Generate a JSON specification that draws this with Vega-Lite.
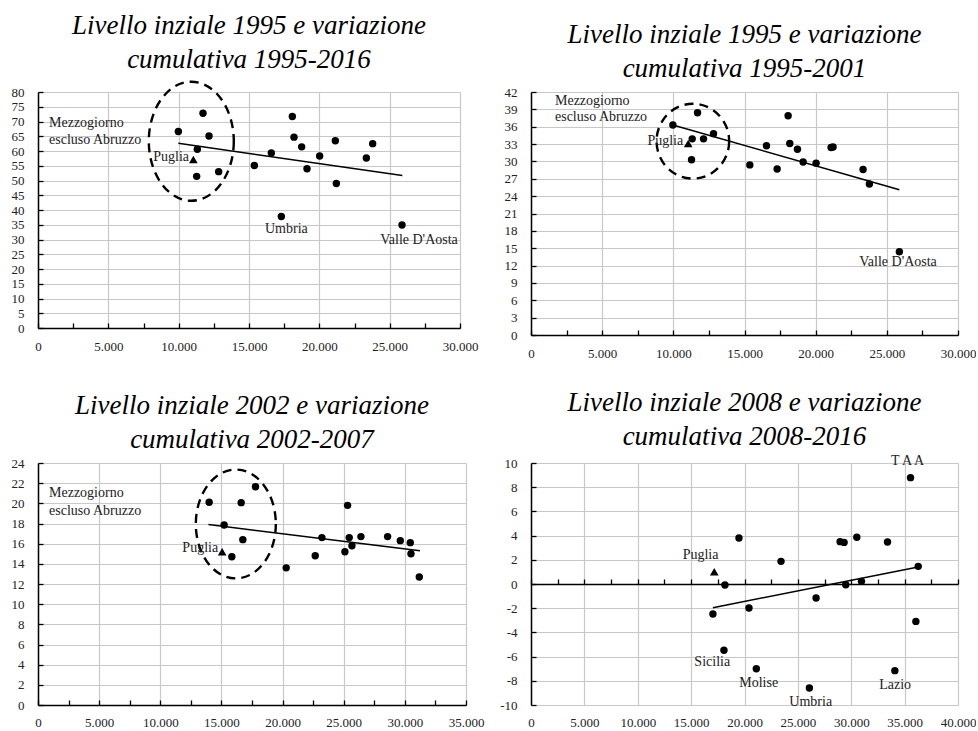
{
  "$schema": "https://vega.github.io/schema/vega-lite/v6.json",
  "background": "white",
  "padding": {"left": 11, "top": 11, "right": 0, "bottom": 0},
  "bounds": "flush",
  "columns": 2,
  "spacing": {"row": 128, "column": 65},
  "config": {
    "view": {"stroke": null},
    "font": "Liberation Serif",
    "axis": {
      "labelFont": "Liberation Serif",
      "labelFontSize": 13,
      "labelColor": "#222222",
      "grid": true,
      "gridColor": "#c8c8c8",
      "gridWidth": 1.2,
      "domainColor": "#000000",
      "domainWidth": 1.5,
      "tickColor": "#000000",
      "tickWidth": 1.3,
      "tickSize": -5,
      "labelFlush": false,
      "labelOverlap": false
    },
    "title": {
      "font": "Liberation Serif",
      "fontStyle": "italic",
      "fontWeight": "normal",
      "fontSize": 27,
      "lineHeight": 34,
      "color": "#000000",
      "anchor": "middle",
      "offset": 3
    }
  },
  "datasets": {
    "p1": [
      {"x": 9977, "y": 66.6, "gruppo": "altre"},
      {"x": 11730, "y": 72.8, "gruppo": "altre"},
      {"x": 12157, "y": 65.1, "gruppo": "altre"},
      {"x": 11327, "y": 60.6, "gruppo": "altre"},
      {"x": 11043, "y": 57.1, "gruppo": "Puglia"},
      {"x": 11280, "y": 51.4, "gruppo": "altre"},
      {"x": 12844, "y": 53.0, "gruppo": "altre"},
      {"x": 15380, "y": 55.1, "gruppo": "altre"},
      {"x": 16588, "y": 59.3, "gruppo": "altre"},
      {"x": 18081, "y": 71.7, "gruppo": "altre"},
      {"x": 18199, "y": 64.7, "gruppo": "altre"},
      {"x": 18744, "y": 61.4, "gruppo": "altre"},
      {"x": 19124, "y": 54.0, "gruppo": "altre"},
      {"x": 20024, "y": 58.3, "gruppo": "altre"},
      {"x": 21138, "y": 63.5, "gruppo": "altre"},
      {"x": 21209, "y": 49.0, "gruppo": "altre"},
      {"x": 23342, "y": 57.6, "gruppo": "altre"},
      {"x": 23792, "y": 62.5, "gruppo": "altre"},
      {"x": 17299, "y": 37.8, "gruppo": "altre"},
      {"x": 25877, "y": 34.9, "gruppo": "altre"}
    ],
    "t1": [{"x": 9977, "y": 62.6}, {"x": 25900, "y": 51.7}],
    "e1": [{"x": 10898, "y": 63.3}],
    "l1": [
      {"testo": "Mezzogiorno", "x": 782, "y": 69.6, "ancora": "left"},
      {"testo": "escluso Abruzzo", "x": 782, "y": 63.8, "ancora": "left"},
      {"testo": "Puglia", "x": 10735, "y": 57.9, "ancora": "right"},
      {"testo": "Umbria", "x": 17655, "y": 33.7, "ancora": "center"},
      {"testo": "Valle D'Aosta", "x": 27086, "y": 29.9, "ancora": "center"}
    ],
    "p2": [
      {"x": 9968, "y": 36.3, "gruppo": "altre"},
      {"x": 11700, "y": 38.4, "gruppo": "altre"},
      {"x": 11326, "y": 33.9, "gruppo": "altre"},
      {"x": 12121, "y": 33.9, "gruppo": "altre"},
      {"x": 12823, "y": 34.8, "gruppo": "altre"},
      {"x": 11045, "y": 33.1, "gruppo": "Puglia"},
      {"x": 11279, "y": 30.3, "gruppo": "altre"},
      {"x": 15374, "y": 29.4, "gruppo": "altre"},
      {"x": 16544, "y": 32.7, "gruppo": "altre"},
      {"x": 17293, "y": 28.7, "gruppo": "altre"},
      {"x": 18065, "y": 37.9, "gruppo": "altre"},
      {"x": 18182, "y": 33.1, "gruppo": "altre"},
      {"x": 18720, "y": 32.1, "gruppo": "altre"},
      {"x": 19118, "y": 29.9, "gruppo": "altre"},
      {"x": 20030, "y": 29.7, "gruppo": "altre"},
      {"x": 21083, "y": 32.4, "gruppo": "altre"},
      {"x": 21224, "y": 32.5, "gruppo": "altre"},
      {"x": 23330, "y": 28.6, "gruppo": "altre"},
      {"x": 23774, "y": 26.1, "gruppo": "altre"},
      {"x": 25880, "y": 14.4, "gruppo": "altre"}
    ],
    "t2": [{"x": 9968, "y": 36.3}, {"x": 25880, "y": 25.1}],
    "e2": [{"x": 11372, "y": 33.5}],
    "l2": [
      {"testo": "Mezzogiorno", "x": 1685, "y": 40.5, "ancora": "left"},
      {"testo": "escluso Abruzzo", "x": 1685, "y": 37.6, "ancora": "left"},
      {"testo": "Puglia", "x": 10694, "y": 33.5, "ancora": "right"},
      {"testo": "Valle D'Aosta", "x": 25787, "y": 12.7, "ancora": "center"}
    ],
    "p3": [
      {"x": 13995, "y": 20.1, "gruppo": "altre"},
      {"x": 15222, "y": 17.85, "gruppo": "altre"},
      {"x": 15059, "y": 15.2, "gruppo": "Puglia"},
      {"x": 15850, "y": 14.7, "gruppo": "altre"},
      {"x": 16614, "y": 20.07, "gruppo": "altre"},
      {"x": 16750, "y": 16.4, "gruppo": "altre"},
      {"x": 17787, "y": 21.65, "gruppo": "altre"},
      {"x": 20296, "y": 13.6, "gruppo": "altre"},
      {"x": 22670, "y": 14.8, "gruppo": "altre"},
      {"x": 23215, "y": 16.6, "gruppo": "altre"},
      {"x": 25098, "y": 15.2, "gruppo": "altre"},
      {"x": 25316, "y": 19.8, "gruppo": "altre"},
      {"x": 25452, "y": 16.6, "gruppo": "altre"},
      {"x": 25671, "y": 15.8, "gruppo": "altre"},
      {"x": 26407, "y": 16.7, "gruppo": "altre"},
      {"x": 28589, "y": 16.7, "gruppo": "altre"},
      {"x": 29626, "y": 16.3, "gruppo": "altre"},
      {"x": 30444, "y": 16.1, "gruppo": "altre"},
      {"x": 30499, "y": 15.0, "gruppo": "altre"},
      {"x": 31181, "y": 12.7, "gruppo": "altre"}
    ],
    "t3": [{"x": 13940, "y": 17.9}, {"x": 31236, "y": 15.3}],
    "e3": [{"x": 16177, "y": 17.95}],
    "l3": [
      {"testo": "Mezzogiorno", "x": 900, "y": 21.0, "ancora": "left"},
      {"testo": "escluso Abruzzo", "x": 900, "y": 19.2, "ancora": "left"},
      {"testo": "Puglia", "x": 14731, "y": 15.6, "ancora": "right"}
    ],
    "p4": [
      {"x": 17167, "y": 1.02, "gruppo": "Puglia"},
      {"x": 17042, "y": -2.48, "gruppo": "altre"},
      {"x": 18168, "y": -0.08, "gruppo": "altre"},
      {"x": 18074, "y": -5.48, "gruppo": "altre"},
      {"x": 19481, "y": 3.8, "gruppo": "altre"},
      {"x": 20419, "y": -1.98, "gruppo": "altre"},
      {"x": 21107, "y": -7.0, "gruppo": "altre"},
      {"x": 23421, "y": 1.87, "gruppo": "altre"},
      {"x": 26079, "y": -8.6, "gruppo": "altre"},
      {"x": 26705, "y": -1.16, "gruppo": "altre"},
      {"x": 28956, "y": 3.5, "gruppo": "altre"},
      {"x": 29331, "y": 3.44, "gruppo": "altre"},
      {"x": 29488, "y": -0.06, "gruppo": "altre"},
      {"x": 30520, "y": 3.86, "gruppo": "altre"},
      {"x": 30957, "y": 0.22, "gruppo": "altre"},
      {"x": 33396, "y": 3.47, "gruppo": "altre"},
      {"x": 34084, "y": -7.16, "gruppo": "altre"},
      {"x": 35554, "y": 8.79, "gruppo": "altre"},
      {"x": 36054, "y": -3.09, "gruppo": "altre"},
      {"x": 36273, "y": 1.46, "gruppo": "altre"}
    ],
    "t4": [{"x": 17042, "y": -1.96}, {"x": 36273, "y": 1.40}],
    "l4": [
      {"testo": "T A A", "x": 35273, "y": 10.19, "ancora": "center"},
      {"testo": "Puglia", "x": 15885, "y": 2.42, "ancora": "center"},
      {"testo": "Sicilia", "x": 16980, "y": -6.47, "ancora": "center"},
      {"testo": "Molise", "x": 21326, "y": -8.21, "ancora": "center"},
      {"testo": "Umbria", "x": 26204, "y": -9.73, "ancora": "center"},
      {"testo": "Lazio", "x": 34116, "y": -8.32, "ancora": "center"}
    ]
  },
  "concat": [
    {
      "width": 422,
      "height": 236,
      "title": {"text": ["Livello inziale 1995 e variazione", "cumulativa 1995-2016"]},
      "encoding": {
        "x": {"field": "x", "type": "quantitative", "title": null,
          "scale": {"domain": [0, 30000], "nice": false, "zero": false},
          "axis": {"values": [0, 2500, 5000, 7500, 10000, 12500, 15000, 17500, 20000, 22500, 25000, 27500, 30000],
            "labelExpr": "datum.value % 5000 === 0 ? replace(format(datum.value, ','), ',', '.') : ''",
            "gridOpacity": {"condition": {"test": "datum.value % 5000 === 0", "value": 1}, "value": 0},
            "labelPadding": 17}},
        "y": {"field": "y", "type": "quantitative", "title": null,
          "scale": {"domain": [0, 80], "nice": false, "zero": false},
          "axis": {"values": [0, 5, 10, 15, 20, 25, 30, 35, 40, 45, 50, 55, 60, 65, 70, 75, 80], "labelPadding": 19}}
      },
      "layer": [
        {"data": {"name": "p1"}, "transform": [{"filter": "datum.gruppo === 'altre'"}],
          "mark": {"type": "point", "shape": "circle", "filled": true, "size": 55, "color": "#000000", "opacity": 1}},
        {"data": {"name": "p1"}, "transform": [{"filter": "datum.gruppo === 'Puglia'"}],
          "mark": {"type": "point", "shape": "triangle-up", "filled": true, "size": 75, "color": "#000000", "opacity": 1}},
        {"data": {"name": "t1"}, "mark": {"type": "line", "color": "#000000", "strokeWidth": 1.5}},
        {"data": {"name": "e1"},
          "mark": {"type": "point", "shape": "M 1 0 C 1 0.773 0.552 1.4 0 1.4 C -0.552 1.4 -1 0.773 -1 0 C -1 -0.773 -0.552 -1.4 0 -1.4 C 0.552 -1.4 1 -0.773 1 0 Z", "size": 7225, "filled": false, "stroke": "#000000", "strokeWidth": 2.4, "strokeDash": [9, 6], "opacity": 1}},
        {"data": {"name": "l1"}, "transform": [{"filter": "datum.ancora === 'left'"}],
          "mark": {"type": "text", "align": "left", "baseline": "middle", "font": "Liberation Serif", "fontSize": 14, "color": "#222222"},
          "encoding": {"text": {"field": "testo"}}},
        {"data": {"name": "l1"}, "transform": [{"filter": "datum.ancora === 'right'"}],
          "mark": {"type": "text", "align": "right", "baseline": "middle", "font": "Liberation Serif", "fontSize": 14, "color": "#222222"},
          "encoding": {"text": {"field": "testo"}}},
        {"data": {"name": "l1"}, "transform": [{"filter": "datum.ancora === 'center'"}],
          "mark": {"type": "text", "align": "center", "baseline": "middle", "font": "Liberation Serif", "fontSize": 14, "color": "#222222"},
          "encoding": {"text": {"field": "testo"}}}
      ]
    },
    {
      "width": 427,
      "height": 243,
      "title": {"text": ["Livello inziale 1995 e variazione", "cumulativa 1995-2001"]},
      "encoding": {
        "x": {"field": "x", "type": "quantitative", "title": null,
          "scale": {"domain": [0, 30000], "nice": false, "zero": false},
          "axis": {"values": [0, 2500, 5000, 7500, 10000, 12500, 15000, 17500, 20000, 22500, 25000, 27500, 30000],
            "labelExpr": "datum.value % 5000 === 0 ? replace(format(datum.value, ','), ',', '.') : ''",
            "gridOpacity": {"condition": {"test": "datum.value % 5000 === 0", "value": 1}, "value": 0},
            "labelPadding": 17}},
        "y": {"field": "y", "type": "quantitative", "title": null,
          "scale": {"domain": [0, 42], "nice": false, "zero": false},
          "axis": {"values": [0, 3, 6, 9, 12, 15, 18, 21, 24, 27, 30, 33, 36, 39, 42], "labelPadding": 19}}
      },
      "layer": [
        {"data": {"name": "p2"}, "transform": [{"filter": "datum.gruppo === 'altre'"}],
          "mark": {"type": "point", "shape": "circle", "filled": true, "size": 55, "color": "#000000", "opacity": 1}},
        {"data": {"name": "p2"}, "transform": [{"filter": "datum.gruppo === 'Puglia'"}],
          "mark": {"type": "point", "shape": "triangle-up", "filled": true, "size": 75, "color": "#000000", "opacity": 1}},
        {"data": {"name": "t2"}, "mark": {"type": "line", "color": "#000000", "strokeWidth": 1.5}},
        {"data": {"name": "e2"},
          "mark": {"type": "point", "shape": "M 1 0 C 1 0.569 0.552 1.03 0 1.03 C -0.552 1.03 -1 0.569 -1 0 C -1 -0.569 -0.552 -1.03 0 -1.03 C 0.552 -1.03 1 -0.569 1 0 Z", "size": 5271, "filled": false, "stroke": "#000000", "strokeWidth": 2.4, "strokeDash": [9, 6], "opacity": 1}},
        {"data": {"name": "l2"}, "transform": [{"filter": "datum.ancora === 'left'"}],
          "mark": {"type": "text", "align": "left", "baseline": "middle", "font": "Liberation Serif", "fontSize": 14, "color": "#222222"},
          "encoding": {"text": {"field": "testo"}}},
        {"data": {"name": "l2"}, "transform": [{"filter": "datum.ancora === 'right'"}],
          "mark": {"type": "text", "align": "right", "baseline": "middle", "font": "Liberation Serif", "fontSize": 14, "color": "#222222"},
          "encoding": {"text": {"field": "testo"}}},
        {"data": {"name": "l2"}, "transform": [{"filter": "datum.ancora === 'center'"}],
          "mark": {"type": "text", "align": "center", "baseline": "middle", "font": "Liberation Serif", "fontSize": 14, "color": "#222222"},
          "encoding": {"text": {"field": "testo"}}}
      ]
    },
    {
      "width": 428,
      "height": 242,
      "title": {"text": ["Livello inziale 2002 e variazione", "cumulativa 2002-2007"]},
      "encoding": {
        "x": {"field": "x", "type": "quantitative", "title": null,
          "scale": {"domain": [0, 35000], "nice": false, "zero": false},
          "axis": {"values": [0, 2500, 5000, 7500, 10000, 12500, 15000, 17500, 20000, 22500, 25000, 27500, 30000, 32500, 35000],
            "labelExpr": "datum.value % 5000 === 0 ? replace(format(datum.value, ','), ',', '.') : ''",
            "gridOpacity": {"condition": {"test": "datum.value % 5000 === 0", "value": 1}, "value": 0},
            "labelPadding": 16}},
        "y": {"field": "y", "type": "quantitative", "title": null,
          "scale": {"domain": [0, 24], "nice": false, "zero": false},
          "axis": {"values": [0, 2, 4, 6, 8, 10, 12, 14, 16, 18, 20, 22, 24], "labelPadding": 19}}
      },
      "layer": [
        {"data": {"name": "p3"}, "transform": [{"filter": "datum.gruppo === 'altre'"}],
          "mark": {"type": "point", "shape": "circle", "filled": true, "size": 55, "color": "#000000", "opacity": 1}},
        {"data": {"name": "p3"}, "transform": [{"filter": "datum.gruppo === 'Puglia'"}],
          "mark": {"type": "point", "shape": "triangle-up", "filled": true, "size": 75, "color": "#000000", "opacity": 1}},
        {"data": {"name": "t3"}, "mark": {"type": "line", "color": "#000000", "strokeWidth": 1.5}},
        {"data": {"name": "e3"},
          "mark": {"type": "point", "shape": "M 1 0 C 1 0.751 0.552 1.36 0 1.36 C -0.552 1.36 -1 0.751 -1 0 C -1 -0.751 -0.552 -1.36 0 -1.36 C 0.552 -1.36 1 -0.751 1 0 Z", "size": 6400, "filled": false, "stroke": "#000000", "strokeWidth": 2.4, "strokeDash": [9, 6], "opacity": 1}},
        {"data": {"name": "l3"}, "transform": [{"filter": "datum.ancora === 'left'"}],
          "mark": {"type": "text", "align": "left", "baseline": "middle", "font": "Liberation Serif", "fontSize": 14, "color": "#222222"},
          "encoding": {"text": {"field": "testo"}}},
        {"data": {"name": "l3"}, "transform": [{"filter": "datum.ancora === 'right'"}],
          "mark": {"type": "text", "align": "right", "baseline": "middle", "font": "Liberation Serif", "fontSize": 14, "color": "#222222"},
          "encoding": {"text": {"field": "testo"}}}
      ]
    },
    {
      "width": 427,
      "height": 242,
      "title": {"text": ["Livello inziale 2008 e variazione", "cumulativa 2008-2016"]},
      "encoding": {
        "x": {"field": "x", "type": "quantitative", "title": null,
          "scale": {"domain": [0, 40000], "nice": false, "zero": false},
          "axis": {"values": [0, 2500, 5000, 7500, 10000, 12500, 15000, 17500, 20000, 22500, 25000, 27500, 30000, 32500, 35000, 37500, 40000],
            "labelExpr": "datum.value % 5000 === 0 ? replace(format(datum.value, ','), ',', '.') : ''",
            "gridOpacity": {"condition": {"test": "datum.value % 5000 === 0", "value": 1}, "value": 0},
            "offset": -121,
            "labelPadding": 137}},
        "y": {"field": "y", "type": "quantitative", "title": null,
          "scale": {"domain": [-10, 10], "nice": false, "zero": false},
          "axis": {"values": [-10, -8, -6, -4, -2, 0, 2, 4, 6, 8, 10], "labelExpr": "datum.value + ''", "labelPadding": 19}}
      },
      "layer": [
        {"data": {"name": "p4"}, "transform": [{"filter": "datum.gruppo === 'altre'"}],
          "mark": {"type": "point", "shape": "circle", "filled": true, "size": 55, "color": "#000000", "opacity": 1}},
        {"data": {"name": "p4"}, "transform": [{"filter": "datum.gruppo === 'Puglia'"}],
          "mark": {"type": "point", "shape": "triangle-up", "filled": true, "size": 75, "color": "#000000", "opacity": 1}},
        {"data": {"name": "t4"}, "mark": {"type": "line", "color": "#000000", "strokeWidth": 1.5}},
        {"data": {"name": "l4"},
          "mark": {"type": "text", "align": "center", "baseline": "middle", "font": "Liberation Serif", "fontSize": 14, "color": "#222222"},
          "encoding": {"text": {"field": "testo"}}}
      ]
    }
  ]
}
